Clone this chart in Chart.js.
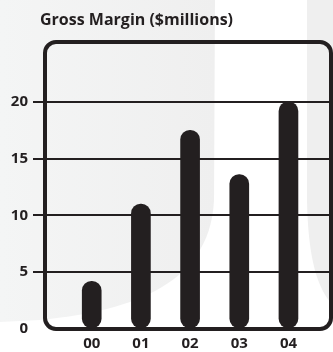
<!DOCTYPE html>
<html>
<head>
<meta charset="utf-8">
<script src="https://cdn.jsdelivr.net/npm/chart.js@4"></script>
<style>
  html, body { margin: 0; padding: 0; background: #fff; }
  #wrap { width: 333px; height: 352px; position: relative; }
</style>
</head>
<body>
<div id="wrap"><canvas id="gm"></canvas></div>
<script>
// Gross margin by year, $ millions
const years = ['00', '01', '02', '03', '04'];
const margin = [4.2, 11, 17.5, 13.6, 20];
const yTicks = [0, 5, 10, 15, 20];
const titleText = 'Gross Margin ($millions)';

const INK = '#231f20';
const FONT = '"Open Sans", "Noto Sans", sans-serif';

// soft backdrop: grey panels with a white vase-shaped band
const backdrop = {
  id: 'backdrop',
  beforeDraw(chart) {
    const ctx = chart.ctx, w = chart.width, h = chart.height;
    ctx.save();
    ctx.fillStyle = '#ffffff';
    ctx.fillRect(0, 0, w, h);
    const g = ctx.createLinearGradient(0, 0, 215, 0);
    g.addColorStop(0, '#f4f5f5');
    g.addColorStop(1, '#efefef');
    ctx.fillStyle = g;
    ctx.beginPath();
    ctx.moveTo(0, 0);
    ctx.lineTo(215, 0);
    ctx.lineTo(214, 200);
    ctx.bezierCurveTo(210, 290, 120, 312, 40, 320);
    ctx.lineTo(0, 322);
    ctx.closePath();
    ctx.fill();
    ctx.fillStyle = '#efefef';
    ctx.beginPath();
    ctx.moveTo(307, 0);
    ctx.lineTo(w, 0);
    ctx.lineTo(w, 305);
    ctx.bezierCurveTo(318, 290, 308, 260, 307, 200);
    ctx.closePath();
    ctx.fill();
    ctx.restore();
  }
};

// rounded frame around the plot plus the heading
const frame = {
  id: 'frame',
  beforeDatasetsDraw(chart) {
    const { ctx, chartArea: a } = chart;
    ctx.save();
    ctx.strokeStyle = INK;
    ctx.lineWidth = 4;
    ctx.beginPath();
    ctx.roundRect(a.left, a.top, a.right - a.left, a.bottom - a.top, 11);
    ctx.stroke();
    ctx.fillStyle = INK;
    ctx.font = 'bold 16px ' + FONT;
    ctx.textBaseline = 'alphabetic';
    ctx.fillText(titleText, 40, 25);
    ctx.restore();
  }
};

new Chart(document.getElementById('gm'), {
  type: 'bar',
  data: {
    datasets: [{
      data: margin.map((v, i) => ({ x: i, y: v })),
      backgroundColor: INK,
      barThickness: 19,
      borderRadius: 10,
      borderSkipped: false
    }]
  },
  options: {
    responsive: true,
    maintainAspectRatio: false,
    animation: false,
    layout: { padding: { top: 42, right: 2, left: 0, bottom: 0 } },
    plugins: { legend: { display: false }, tooltip: { enabled: false } },
    scales: {
      x: {
        type: 'linear',
        offset: false,
        min: -0.95,
        max: 4.865,
        afterBuildTicks: s => { s.ticks = years.map((_, i) => ({ value: i })); },
        afterFit: s => { s.height = 23; },
        grid: { display: false, drawTicks: false, offset: false },
        border: { display: false },
        ticks: {
          callback: v => years[v],
          color: INK,
          padding: 6,
          maxRotation: 0,
          font: { family: FONT, weight: 'bold', size: 15 }
        }
      },
      y: {
        min: 0,
        max: 25.27,
        afterBuildTicks: s => { s.ticks = yTicks.map(v => ({ value: v })); },
        afterFit: s => { s.width = 45; },
        grid: {
          color: c => c.tick && c.tick.value === 0 ? 'rgba(0,0,0,0)' : INK,
          lineWidth: 2,
          tickLength: 12
        },
        border: { display: false },
        ticks: {
          color: INK,
          padding: 5,
          font: { family: FONT, weight: 'bold', size: 15 }
        }
      }
    }
  },
  plugins: [backdrop, frame]
});
</script>
</body>
</html>
